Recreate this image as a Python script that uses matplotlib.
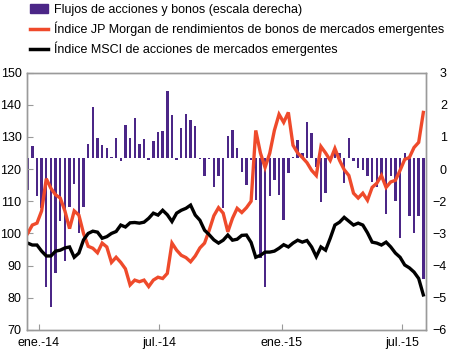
import numpy as np
import pandas as pd
import matplotlib
matplotlib.use("Agg")
import matplotlib.pyplot as plt
from matplotlib.patches import Patch
from matplotlib.lines import Line2D

plt.rcParams['font.family'] = ['Liberation Sans', 'DejaVu Sans']

# semanas (datos semanales)
fechas = pd.date_range('2013-12-15', periods=86, freq='7D')

# flujos de acciones y bonos (escala derecha)
flujos = [-1.1, 0.42, -1.3, -1.75, -4.5, -5.2, -4.0, -2.2, -3.6, -1.7,
          -0.9, -2.6, -1.7, 0.49, 1.78, 0.7, 0.45, 0.35, 0.05, 0.7,
          -0.1, 1.15, 0.72, 1.4, 0.49, 0.66, -0.05, 0.6, 0.92, 0.94,
          2.34, 1.53, -0.05, 1.05, 1.56, 1.33, 1.12, -0.03, -0.6, -0.03,
          -1.0, -0.63, -1.75, 0.77, 1.0, 0.35, -0.49, -0.94, -0.05, -1.46,
          -3.5, -4.5, -1.33, -0.77, -1.29, -2.16, -0.52, 0.05, 0.63, 0.17,
          1.26, 0.87, -0.3, -1.53, -1.22, -0.1, 0.31, 0.17, -0.87, 0.7,
          -0.08, -0.35, -0.42, -0.6, -0.84, -1.0, -0.6, -1.93, -0.6, -1.5,
          -2.8, 0.2, -2.0, -2.6, -2.0, -4.2]

# Indice JP Morgan de rendimientos de bonos de mercados emergentes
jpm = [100, 102.6, 103.2, 107, 117, 114, 112, 111, 107, 101.5,
       107, 105.7, 100, 96, 95.4, 94, 97, 95.8, 91, 92.6,
       91, 89, 84, 85.5, 85, 85.5, 83.5, 85.5, 86.4, 86,
       87.6, 97, 94.8, 93.2, 92.5, 91.2, 93, 95.5, 97, 101,
       105.5, 108, 106.3, 100.5, 104.7, 107.8, 106.5, 108, 110, 132,
       125, 120.5, 124.9, 132, 137, 134.5, 137.6, 127.4, 125, 123.6,
       122, 119.6, 118, 127, 125, 122.7, 126.4, 122.7, 119.8, 118,
       112.5, 111, 112.5, 110.3, 114.3, 115.6, 118, 114.3, 116, 116.5,
       119.6, 123, 123.6, 126.7, 128.3, 137.6]

# Indice MSCI de acciones de mercados emergentes
msci = [97, 96.4, 96.4, 94.5, 93, 93, 94.5, 94.8, 95.5, 95.8,
        92.6, 93.9, 98, 100, 100.7, 100.4, 98.5, 99, 100, 100.6,
        102.6, 102, 103.3, 103.4, 103.2, 103.5, 104.7, 106.3, 105.7, 107.2,
        105.8, 103.7, 106.3, 107.2, 107.8, 108.8, 105.7, 104.1, 101, 99.6,
        98, 97, 97.9, 99.5, 97.9, 98.2, 99.4, 99.5, 97.2, 92.6,
        93.2, 94.2, 94.2, 94.5, 95.4, 96.5, 95.8, 97, 97.9, 97.3,
        97.8, 95.8, 92.8, 95.8, 94.8, 98.5, 102.6, 103.5, 105, 103.8,
        102.6, 103.2, 102.6, 100.2, 97.3, 97, 96.4, 97.3, 95.8, 93.9,
        92.6, 90.2, 89.3, 88, 86, 80.9]

ticks_izq = [70, 80, 90, 100, 110, 120, 130, 140, 150]
etiquetas_der = ['\u22126', '\u22125', '\u22124', '\u22123', '\u22122', '0', '1', '2', '3']
fechas_ticks = pd.to_datetime(['2014-01-01', '2014-07-01', '2015-01-01', '2015-07-01'])
etiquetas_x = ['ene.-14', 'jul.-14', 'ene.-15', 'jul.-15']

morado = '#4b2687'
naranja = '#ef4a2b'
gris = '#9a9a9a'

fig = plt.figure(figsize=(4.5, 3.51), dpi=100)
ax_b = fig.add_axes([27/450, 21/351, 399/450, 257.5/351])
ax_l = ax_b.twinx()

# barras en escala derecha
ax_b.bar(fechas, flujos, width=3.6, color=morado, zorder=2)
ax_b.set_ylim(-6, 3)
pos_der = -6 + (np.array(ticks_izq) - 70) / 80 * 9
ax_b.set_yticks(pos_der)
ax_b.set_yticklabels(etiquetas_der)
ax_b.yaxis.tick_right()
ax_b.tick_params(axis='y', length=0, pad=15, labelsize=9)
for t in ax_b.get_yticklabels():
    t.set_horizontalalignment('right')

# lineas en escala izquierda
ax_l.plot(fechas, jpm, color=naranja, lw=2.4, solid_joinstyle='miter')
ax_l.plot(fechas, msci, color='black', lw=2.4, solid_joinstyle='miter')
ax_l.set_ylim(70, 150)
ax_l.yaxis.tick_left()
ax_l.set_yticks(ticks_izq)
ax_l.tick_params(axis='y', direction='in', length=4, color=gris, pad=4, labelsize=9)

ax_b.set_xlim(pd.Timestamp('2013-12-14'), pd.Timestamp('2015-08-06'))
ax_b.set_xticks(fechas_ticks)
ax_b.set_xticklabels(etiquetas_x)
ax_b.tick_params(axis='x', direction='in', length=4, color=gris, pad=5, labelsize=9)

for ax in (ax_b, ax_l):
    for s in ax.spines.values():
        s.set_color(gris)
        s.set_linewidth(1)

handles = [Patch(color=morado), Line2D([], [], color=naranja, lw=2.5),
           Line2D([], [], color='black', lw=2.5)]
labels = ['Flujos de acciones y bonos (escala derecha)',
          'Índice JP Morgan de rendimientos de bonos de mercados emergentes',
          'Índice MSCI de acciones de mercados emergentes']
fig.legend(handles, labels, loc='upper left', bbox_to_anchor=(22/450, 1.0 + 4/351),
           frameon=False, fontsize=9, handlelength=1.5, handleheight=0.7,
           handletextpad=0.45, labelspacing=0.48, borderpad=0.1)

fig.savefig('out.png', dpi=100)
